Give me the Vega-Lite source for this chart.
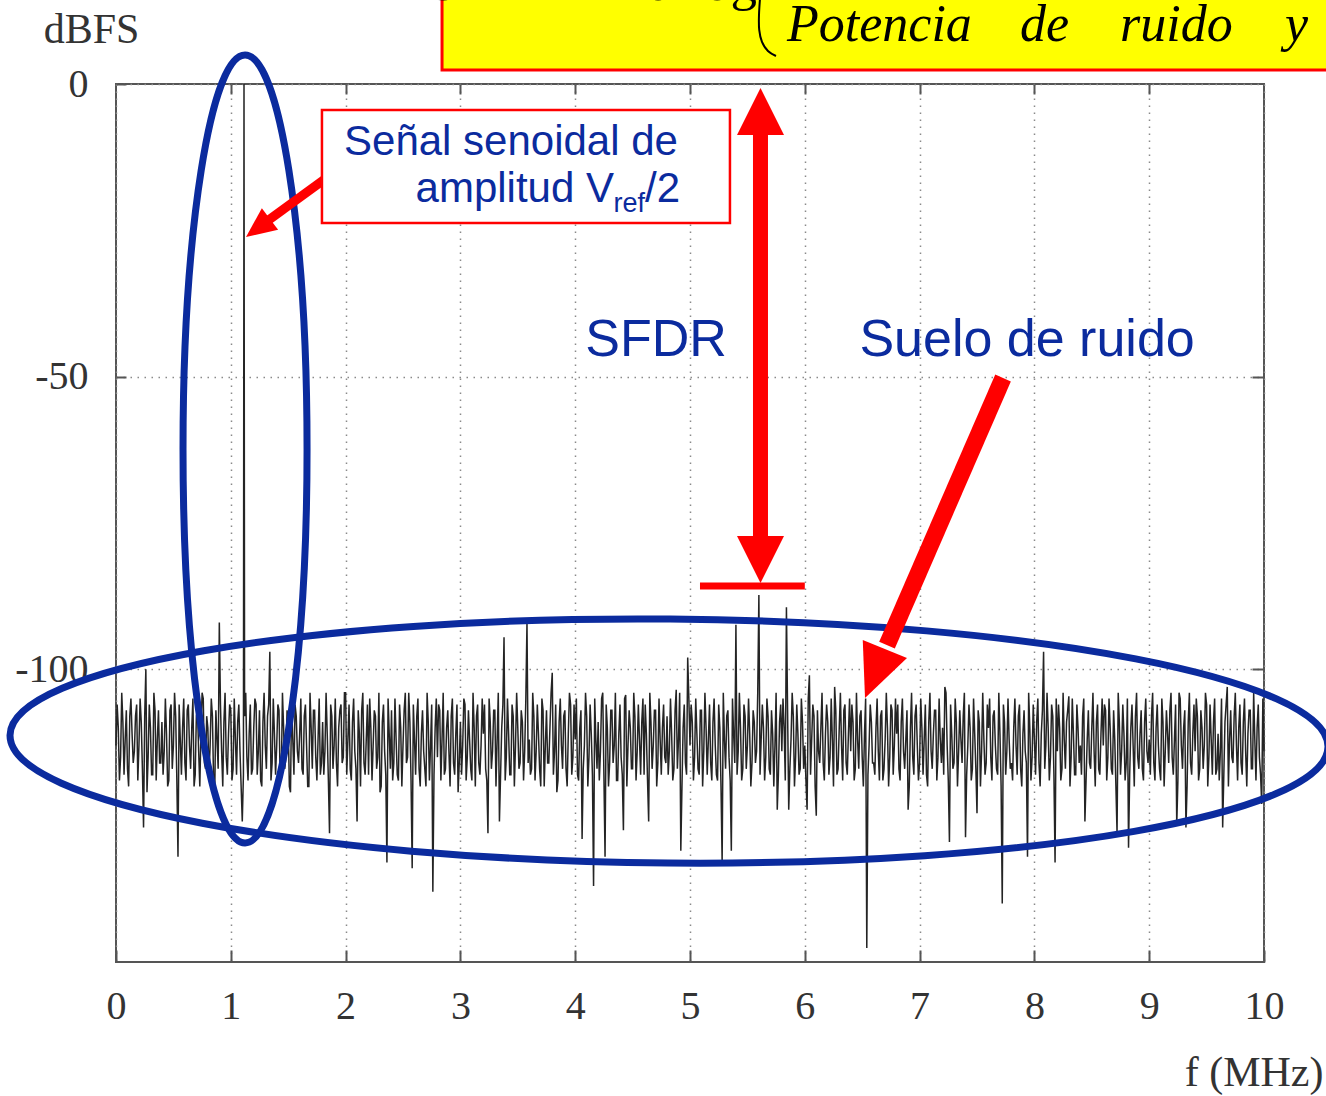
{
  "$schema": "https://vega.github.io/schema/vega-lite/v6.json",
  "width": 1148,
  "height": 878,
  "autosize": {"type": "none"},
  "padding": {"left": 116, "top": 84, "right": 62, "bottom": 134},
  "background": "white",
  "config": {
    "view": {"stroke": "#555555", "strokeWidth": 2},
    "font": "Liberation Serif",
    "axis": {
      "domain": false,
      "labelFont": "Liberation Serif",
      "labelFontSize": 40,
      "labelColor": "#333333",
      "labelFlush": false,
      "labelOverlap": false,
      "tickColor": "#555555",
      "tickWidth": 2,
      "gridColor": "#8a8a8a",
      "gridDash": [1.5, 5.5],
      "gridWidth": 1.5,
      "titleFont": "Liberation Serif",
      "titleFontSize": 42,
      "titleFontWeight": "normal",
      "titleColor": "#333333"
    }
  },
  "datasets": {
    "spectrum": [
      {"f":0.00,"db":-113},{"f":0.02,"db":-110},{"f":0.04,"db":-115},{"f":0.06,"db":-109},{"f":0.08,"db":-112},{"f":0.10,"db":-117},{"f":0.12,"db":-108},{"f":0.14,"db":-111},{"f":0.16,"db":-114},{"f":0.18,"db":-106},
      {"f":0.20,"db":-113},{"f":0.22,"db":-109},{"f":0.24,"db":-127},{"f":0.26,"db":-100},{"f":0.28,"db":-115},{"f":0.30,"db":-110},{"f":0.32,"db":-118},{"f":0.34,"db":-107},{"f":0.36,"db":-112},{"f":0.38,"db":-116},
      {"f":0.40,"db":-109},{"f":0.42,"db":-114},{"f":0.44,"db":-111},{"f":0.46,"db":-119},{"f":0.48,"db":-106},{"f":0.50,"db":-113},{"f":0.52,"db":-108},{"f":0.54,"db":-132},{"f":0.56,"db":-112},{"f":0.58,"db":-110},
      {"f":0.60,"db":-116},{"f":0.62,"db":-107},{"f":0.64,"db":-113},{"f":0.66,"db":-110},{"f":0.68,"db":-120},{"f":0.70,"db":-108},{"f":0.72,"db":-114},{"f":0.74,"db":-111},{"f":0.76,"db":-105},{"f":0.78,"db":-117},
      {"f":0.80,"db":-110},{"f":0.82,"db":-113},{"f":0.84,"db":-108},{"f":0.86,"db":-121},{"f":0.88,"db":-112},{"f":0.90,"db":-92},{"f":0.92,"db":-114},{"f":0.94,"db":-109},{"f":0.96,"db":-115},{"f":0.98,"db":-111},
      {"f":1.00,"db":-107},{"f":1.02,"db":-117},{"f":1.04,"db":-112},{"f":1.06,"db":-109},{"f":1.08,"db":-114},{"f":1.10,"db":-126},{"f":1.115,"db":0},{"f":1.12,"db":-108},{"f":1.14,"db":-115},{"f":1.16,"db":-111},{"f":1.18,"db":-118},
      {"f":1.20,"db":-110},{"f":1.22,"db":-106},{"f":1.24,"db":-114},{"f":1.26,"db":-119},{"f":1.28,"db":-109},{"f":1.30,"db":-113},{"f":1.32,"db":-108},{"f":1.34,"db":-97},{"f":1.36,"db":-116},{"f":1.38,"db":-111},
      {"f":1.40,"db":-113},{"f":1.42,"db":-107},{"f":1.44,"db":-118},{"f":1.46,"db":-110},{"f":1.48,"db":-115},{"f":1.50,"db":-109},{"f":1.52,"db":-121},{"f":1.54,"db":-112},{"f":1.56,"db":-106},{"f":1.58,"db":-114},
      {"f":1.60,"db":-111},{"f":1.62,"db":-117},{"f":1.64,"db":-108},{"f":1.66,"db":-113},{"f":1.68,"db":-120},{"f":1.70,"db":-110},{"f":1.72,"db":-107},{"f":1.74,"db":-115},{"f":1.76,"db":-112},{"f":1.78,"db":-118},
      {"f":1.80,"db":-109},{"f":1.82,"db":-114},{"f":1.84,"db":-111},{"f":1.86,"db":-128},{"f":1.88,"db":-108},{"f":1.90,"db":-113},{"f":1.92,"db":-116},{"f":1.94,"db":-110},{"f":1.96,"db":-106},{"f":1.98,"db":-115},
      {"f":2.00,"db":-104},{"f":2.02,"db":-112},{"f":2.04,"db":-117},{"f":2.06,"db":-109},{"f":2.08,"db":-114},{"f":2.10,"db":-126},{"f":2.12,"db":-111},{"f":2.14,"db":-107},{"f":2.16,"db":-116},{"f":2.18,"db":-112},
      {"f":2.20,"db":-118},{"f":2.22,"db":-110},{"f":2.24,"db":-113},{"f":2.26,"db":-108},{"f":2.28,"db":-115},{"f":2.30,"db":-121},{"f":2.32,"db":-109},{"f":2.34,"db":-114},{"f":2.36,"db":-133},{"f":2.38,"db":-111},
      {"f":2.40,"db":-107},{"f":2.42,"db":-116},{"f":2.44,"db":-112},{"f":2.46,"db":-119},{"f":2.48,"db":-110},{"f":2.50,"db":-113},{"f":2.52,"db":-104},{"f":2.54,"db":-115},{"f":2.56,"db":-109},{"f":2.58,"db":-134},
      {"f":2.60,"db":-112},{"f":2.62,"db":-108},{"f":2.64,"db":-117},{"f":2.66,"db":-111},{"f":2.68,"db":-114},{"f":2.70,"db":-120},{"f":2.72,"db":-109},{"f":2.74,"db":-113},{"f":2.76,"db":-138},{"f":2.78,"db":-110},
      {"f":2.80,"db":-115},{"f":2.82,"db":-107},{"f":2.84,"db":-112},{"f":2.86,"db":-118},{"f":2.88,"db":-110},{"f":2.90,"db":-114},{"f":2.92,"db":-108},{"f":2.94,"db":-116},{"f":2.96,"db":-111},{"f":2.98,"db":-121},
      {"f":3.00,"db":-109},{"f":3.02,"db":-113},{"f":3.04,"db":-106},{"f":3.06,"db":-115},{"f":3.08,"db":-112},{"f":3.10,"db":-119},{"f":3.12,"db":-110},{"f":3.14,"db":-108},{"f":3.16,"db":-116},{"f":3.18,"db":-113},
      {"f":3.20,"db":-111},{"f":3.22,"db":-117},{"f":3.24,"db":-128},{"f":3.26,"db":-109},{"f":3.28,"db":-114},{"f":3.30,"db":-107},{"f":3.32,"db":-112},{"f":3.34,"db":-126},{"f":3.36,"db":-110},{"f":3.38,"db":-94.5},
      {"f":3.40,"db":-115},{"f":3.42,"db":-111},{"f":3.44,"db":-118},{"f":3.46,"db":-108},{"f":3.48,"db":-113},{"f":3.50,"db":-110},{"f":3.52,"db":-116},{"f":3.54,"db":-109},{"f":3.56,"db":-114},{"f":3.58,"db":-92},
      {"f":3.60,"db":-112},{"f":3.62,"db":-117},{"f":3.64,"db":-108},{"f":3.66,"db":-114},{"f":3.68,"db":-111},{"f":3.70,"db":-120},{"f":3.72,"db":-107},{"f":3.74,"db":-113},{"f":3.76,"db":-116},{"f":3.78,"db":-110},
      {"f":3.80,"db":-100.6},{"f":3.82,"db":-114},{"f":3.84,"db":-121},{"f":3.86,"db":-109},{"f":3.88,"db":-113},{"f":3.90,"db":-108},{"f":3.92,"db":-117},{"f":3.94,"db":-111},{"f":3.96,"db":-106},{"f":3.98,"db":-115},
      {"f":4.00,"db":-112},{"f":4.02,"db":-118},{"f":4.04,"db":-110},{"f":4.06,"db":-129},{"f":4.08,"db":-113},{"f":4.10,"db":-108},{"f":4.12,"db":-115},{"f":4.14,"db":-111},{"f":4.16,"db":-137},{"f":4.18,"db":-112},
      {"f":4.20,"db":-109},{"f":4.22,"db":-114},{"f":4.24,"db":-104},{"f":4.26,"db":-132},{"f":4.28,"db":-110},{"f":4.30,"db":-116},{"f":4.32,"db":-107},{"f":4.34,"db":-113},{"f":4.36,"db":-119},{"f":4.38,"db":-111},
      {"f":4.40,"db":-115},{"f":4.42,"db":-127.5},{"f":4.44,"db":-104.4},{"f":4.46,"db":-113},{"f":4.48,"db":-110},{"f":4.50,"db":-117},{"f":4.52,"db":-108},{"f":4.54,"db":-114},{"f":4.56,"db":-112},{"f":4.58,"db":-109},
      {"f":4.60,"db":-118},{"f":4.62,"db":-111},{"f":4.64,"db":-126},{"f":4.66,"db":-109},{"f":4.68,"db":-113},{"f":4.70,"db":-107},{"f":4.72,"db":-116},{"f":4.74,"db":-112},{"f":4.76,"db":-110},{"f":4.78,"db":-115},
      {"f":4.80,"db":-108},{"f":4.82,"db":-114},{"f":4.84,"db":-111},{"f":4.86,"db":-117},{"f":4.88,"db":-103.5},{"f":4.90,"db":-112},{"f":4.92,"db":-131},{"f":4.94,"db":-110},{"f":4.96,"db":-116},{"f":4.98,"db":-98},
      {"f":5.00,"db":-113},{"f":5.02,"db":-109},{"f":5.04,"db":-115},{"f":5.06,"db":-111},{"f":5.08,"db":-118},{"f":5.10,"db":-107},{"f":5.12,"db":-114},{"f":5.14,"db":-110},{"f":5.16,"db":-112},{"f":5.18,"db":-116},
      {"f":5.20,"db":-109},{"f":5.22,"db":-113},{"f":5.24,"db":-119},{"f":5.26,"db":-110},{"f":5.28,"db":-133},{"f":5.30,"db":-112},{"f":5.32,"db":-108},{"f":5.34,"db":-115},{"f":5.36,"db":-131},{"f":5.38,"db":-111},
      {"f":5.40,"db":-92.4},{"f":5.42,"db":-114},{"f":5.44,"db":-110},{"f":5.46,"db":-117},{"f":5.48,"db":-108},{"f":5.50,"db":-113},{"f":5.52,"db":-111},{"f":5.54,"db":-116},{"f":5.56,"db":-109},{"f":5.58,"db":-114},
      {"f":5.60,"db":-87.3},{"f":5.62,"db":-112},{"f":5.64,"db":-110},{"f":5.66,"db":-115},{"f":5.68,"db":-108},{"f":5.70,"db":-118},{"f":5.72,"db":-111},{"f":5.74,"db":-113},{"f":5.76,"db":-124},{"f":5.78,"db":-109},
      {"f":5.80,"db":-114},{"f":5.82,"db":-110},{"f":5.84,"db":-89.4},{"f":5.86,"db":-124},{"f":5.88,"db":-112},{"f":5.90,"db":-108},{"f":5.92,"db":-115},{"f":5.94,"db":-111},{"f":5.96,"db":-117},{"f":5.98,"db":-109},
      {"f":6.00,"db":-113},{"f":6.02,"db":-124},{"f":6.04,"db":-101},{"f":6.06,"db":-112},{"f":6.08,"db":-108},{"f":6.10,"db":-125},{"f":6.12,"db":-114},{"f":6.14,"db":-110},{"f":6.16,"db":-116},{"f":6.18,"db":-111},
      {"f":6.20,"db":-109},{"f":6.22,"db":-115},{"f":6.24,"db":-112},{"f":6.26,"db":-103},{"f":6.28,"db":-118},{"f":6.30,"db":-110},{"f":6.32,"db":-113},{"f":6.34,"db":-107},{"f":6.36,"db":-116},{"f":6.38,"db":-111},
      {"f":6.40,"db":-114},{"f":6.42,"db":-109},{"f":6.44,"db":-117},{"f":6.46,"db":-112},{"f":6.48,"db":-108},{"f":6.50,"db":-115},{"f":6.52,"db":-111},{"f":6.54,"db":-147.6},{"f":6.56,"db":-113},{"f":6.58,"db":-109},
      {"f":6.60,"db":-116},{"f":6.62,"db":-110},{"f":6.64,"db":-114},{"f":6.66,"db":-108},{"f":6.68,"db":-119},{"f":6.70,"db":-112},{"f":6.72,"db":-110},{"f":6.74,"db":-115},{"f":6.76,"db":-107},{"f":6.78,"db":-113},
      {"f":6.80,"db":-111},{"f":6.82,"db":-117},{"f":6.84,"db":-109},{"f":6.86,"db":-114},{"f":6.88,"db":-112},{"f":6.90,"db":-124},{"f":6.92,"db":-110},{"f":6.94,"db":-115},{"f":6.96,"db":-108},{"f":6.98,"db":-113},
      {"f":7.00,"db":-116},{"f":7.02,"db":-110},{"f":7.04,"db":-112},{"f":7.06,"db":-118},{"f":7.08,"db":-109},{"f":7.10,"db":-114},{"f":7.12,"db":-111},{"f":7.14,"db":-107},{"f":7.16,"db":-115},{"f":7.18,"db":-112},
      {"f":7.20,"db":-110},{"f":7.22,"db":-103},{"f":7.24,"db":-113},{"f":7.26,"db":-129.5},{"f":7.28,"db":-111},{"f":7.30,"db":-116},{"f":7.32,"db":-109},{"f":7.34,"db":-114},{"f":7.36,"db":-112},{"f":7.38,"db":-108},
      {"f":7.40,"db":-128.7},{"f":7.42,"db":-113},{"f":7.44,"db":-110},{"f":7.46,"db":-117},{"f":7.48,"db":-111},{"f":7.50,"db":-124.6},{"f":7.52,"db":-109},{"f":7.54,"db":-114},{"f":7.56,"db":-112},{"f":7.58,"db":-116},
      {"f":7.60,"db":-110},{"f":7.62,"db":-115},{"f":7.64,"db":-108},{"f":7.66,"db":-113},{"f":7.68,"db":-118},{"f":7.70,"db":-111},{"f":7.72,"db":-140},{"f":7.74,"db":-109},{"f":7.76,"db":-114},{"f":7.78,"db":-112},
      {"f":7.80,"db":-116},{"f":7.82,"db":-110},{"f":7.84,"db":-113},{"f":7.86,"db":-108},{"f":7.88,"db":-117},{"f":7.90,"db":-111},{"f":7.92,"db":-114},{"f":7.94,"db":-132},{"f":7.96,"db":-110},{"f":7.98,"db":-115},
      {"f":8.00,"db":-112},{"f":8.02,"db":-109},{"f":8.04,"db":-116},{"f":8.06,"db":-111},{"f":8.08,"db":-97},{"f":8.10,"db":-113},{"f":8.12,"db":-110},{"f":8.14,"db":-115},{"f":8.16,"db":-108},{"f":8.18,"db":-133},
      {"f":8.20,"db":-114},{"f":8.22,"db":-110},{"f":8.24,"db":-117},{"f":8.26,"db":-112},{"f":8.28,"db":-109},{"f":8.30,"db":-104.6},{"f":8.32,"db":-115},{"f":8.34,"db":-111},{"f":8.36,"db":-118},{"f":8.38,"db":-110},
      {"f":8.40,"db":-113},{"f":8.42,"db":-108},{"f":8.44,"db":-126},{"f":8.46,"db":-112},{"f":8.48,"db":-116},{"f":8.50,"db":-110},{"f":8.52,"db":-114},{"f":8.54,"db":-109},{"f":8.56,"db":-117},{"f":8.58,"db":-111},
      {"f":8.60,"db":-113},{"f":8.62,"db":-107},{"f":8.64,"db":-115},{"f":8.66,"db":-110},{"f":8.68,"db":-118},{"f":8.70,"db":-112},{"f":8.72,"db":-128},{"f":8.74,"db":-109},{"f":8.76,"db":-114},{"f":8.78,"db":-111},
      {"f":8.80,"db":-116},{"f":8.82,"db":-130.5},{"f":8.84,"db":-110},{"f":8.86,"db":-113},{"f":8.88,"db":-108},{"f":8.90,"db":-115},{"f":8.92,"db":-111},{"f":8.94,"db":-117},{"f":8.96,"db":-109},{"f":8.98,"db":-114},
      {"f":9.00,"db":-112},{"f":9.02,"db":-108},{"f":9.04,"db":-116},{"f":9.06,"db":-110},{"f":9.08,"db":-113},{"f":9.10,"db":-119},{"f":9.12,"db":-109},{"f":9.14,"db":-114},{"f":9.16,"db":-111},{"f":9.18,"db":-107},
      {"f":9.20,"db":-115},{"f":9.22,"db":-112},{"f":9.24,"db":-126.6},{"f":9.26,"db":-104},{"f":9.28,"db":-113},{"f":9.30,"db":-110},{"f":9.32,"db":-127},{"f":9.34,"db":-109},{"f":9.36,"db":-116},{"f":9.38,"db":-111},
      {"f":9.40,"db":-114},{"f":9.42,"db":-108},{"f":9.44,"db":-117},{"f":9.46,"db":-110},{"f":9.48,"db":-113},{"f":9.50,"db":-106},{"f":9.52,"db":-115},{"f":9.54,"db":-112},{"f":9.56,"db":-109},{"f":9.58,"db":-118},
      {"f":9.60,"db":-111},{"f":9.62,"db":-114},{"f":9.64,"db":-127},{"f":9.66,"db":-109},{"f":9.68,"db":-103},{"f":9.70,"db":-112},{"f":9.72,"db":-115},{"f":9.74,"db":-108},{"f":9.76,"db":-113},{"f":9.78,"db":-110},
      {"f":9.80,"db":-116},{"f":9.82,"db":-109},{"f":9.84,"db":-114},{"f":9.86,"db":-111},{"f":9.88,"db":-107},{"f":9.90,"db":-117},{"f":9.92,"db":-112},{"f":9.94,"db":-110},{"f":9.96,"db":-115},{"f":9.98,"db":-123},
      {"f":10.00,"db":-114},
      {"f":0.01,"db":-106},{"f":0.03,"db":-119},{"f":0.05,"db":-104},{"f":0.07,"db":-118},{"f":0.09,"db":-107},{"f":0.11,"db":-120},{"f":0.13,"db":-105},{"f":0.15,"db":-116},{"f":0.17,"db":-108},{"f":0.19,"db":-119},
      {"f":0.21,"db":-105},{"f":0.23,"db":-117},{"f":0.25,"db":-108},{"f":0.27,"db":-121},{"f":0.29,"db":-106},{"f":0.31,"db":-118},{"f":0.33,"db":-104},{"f":0.35,"db":-119},{"f":0.37,"db":-107},{"f":0.39,"db":-116},
      {"f":0.41,"db":-118},{"f":0.43,"db":-105},{"f":0.45,"db":-120},{"f":0.47,"db":-107},{"f":0.49,"db":-117},{"f":0.51,"db":-104},{"f":0.53,"db":-119},{"f":0.55,"db":-106},{"f":0.57,"db":-118},{"f":0.59,"db":-105},
      {"f":0.61,"db":-119},{"f":0.63,"db":-106},{"f":0.65,"db":-117},{"f":0.67,"db":-105},{"f":0.69,"db":-118},{"f":0.71,"db":-107},{"f":0.73,"db":-120},{"f":0.75,"db":-104},{"f":0.77,"db":-116},{"f":0.79,"db":-108},
      {"f":0.81,"db":-118},{"f":0.83,"db":-105},{"f":0.85,"db":-119},{"f":0.87,"db":-107},{"f":0.89,"db":-117},{"f":0.91,"db":-106},{"f":0.93,"db":-120},{"f":0.95,"db":-104},{"f":0.97,"db":-118},{"f":0.99,"db":-106},
      {"f":1.01,"db":-119},{"f":1.03,"db":-105},{"f":1.05,"db":-118},{"f":1.07,"db":-106},{"f":1.09,"db":-120},{"f":1.11,"db":-118},{"f":1.13,"db":-104},{"f":1.15,"db":-119},{"f":1.17,"db":-106},{"f":1.19,"db":-117},
      {"f":1.21,"db":-105},{"f":1.23,"db":-118},{"f":1.25,"db":-107},{"f":1.27,"db":-120},{"f":1.29,"db":-104},{"f":1.31,"db":-117},{"f":1.33,"db":-106},{"f":1.35,"db":-119},{"f":1.37,"db":-105},{"f":1.39,"db":-118},
      {"f":1.41,"db":-106},{"f":1.43,"db":-119},{"f":1.45,"db":-104},{"f":1.47,"db":-117},{"f":1.49,"db":-107},{"f":1.51,"db":-120},{"f":1.53,"db":-105},{"f":1.55,"db":-118},{"f":1.57,"db":-108},{"f":1.59,"db":-116},
      {"f":1.61,"db":-105},{"f":1.63,"db":-118},{"f":1.65,"db":-106},{"f":1.67,"db":-120},{"f":1.69,"db":-104},{"f":1.71,"db":-117},{"f":1.73,"db":-107},{"f":1.75,"db":-119},{"f":1.77,"db":-105},{"f":1.79,"db":-116},
      {"f":1.81,"db":-118},{"f":1.83,"db":-104},{"f":1.85,"db":-119},{"f":1.87,"db":-106},{"f":1.89,"db":-117},{"f":1.91,"db":-105},{"f":1.93,"db":-120},{"f":1.95,"db":-107},{"f":1.97,"db":-116},{"f":1.99,"db":-104},
      {"f":2.01,"db":-118},{"f":2.03,"db":-106},{"f":2.05,"db":-119},{"f":2.07,"db":-105},{"f":2.09,"db":-117},{"f":2.11,"db":-107},{"f":2.13,"db":-120},{"f":2.15,"db":-104},{"f":2.17,"db":-118},{"f":2.19,"db":-106},
      {"f":2.21,"db":-105},{"f":2.23,"db":-119},{"f":2.25,"db":-107},{"f":2.27,"db":-117},{"f":2.29,"db":-104},{"f":2.31,"db":-120},{"f":2.33,"db":-106},{"f":2.35,"db":-118},{"f":2.37,"db":-105},{"f":2.39,"db":-117},
      {"f":2.41,"db":-119},{"f":2.43,"db":-105},{"f":2.45,"db":-118},{"f":2.47,"db":-106},{"f":2.49,"db":-120},{"f":2.51,"db":-107},{"f":2.53,"db":-116},{"f":2.55,"db":-104},{"f":2.57,"db":-119},{"f":2.59,"db":-106},
      {"f":2.61,"db":-118},{"f":2.63,"db":-105},{"f":2.65,"db":-120},{"f":2.67,"db":-107},{"f":2.69,"db":-117},{"f":2.71,"db":-104},{"f":2.73,"db":-119},{"f":2.75,"db":-106},{"f":2.77,"db":-118},{"f":2.79,"db":-105},
      {"f":2.81,"db":-106},{"f":2.83,"db":-119},{"f":2.85,"db":-104},{"f":2.87,"db":-117},{"f":2.89,"db":-107},{"f":2.91,"db":-120},{"f":2.93,"db":-105},{"f":2.95,"db":-118},{"f":2.97,"db":-106},{"f":2.99,"db":-116},
      {"f":3.01,"db":-118},{"f":3.03,"db":-105},{"f":3.05,"db":-119},{"f":3.07,"db":-107},{"f":3.09,"db":-117},{"f":3.11,"db":-104},{"f":3.13,"db":-120},{"f":3.15,"db":-106},{"f":3.17,"db":-118},{"f":3.19,"db":-105},
      {"f":3.21,"db":-106},{"f":3.23,"db":-119},{"f":3.25,"db":-105},{"f":3.27,"db":-117},{"f":3.29,"db":-107},{"f":3.31,"db":-120},{"f":3.33,"db":-104},{"f":3.35,"db":-118},{"f":3.37,"db":-106},{"f":3.39,"db":-119},
      {"f":3.41,"db":-105},{"f":3.43,"db":-118},{"f":3.45,"db":-106},{"f":3.47,"db":-120},{"f":3.49,"db":-104},{"f":3.51,"db":-117},{"f":3.53,"db":-107},{"f":3.55,"db":-119},{"f":3.57,"db":-105},{"f":3.59,"db":-116},
      {"f":3.61,"db":-118},{"f":3.63,"db":-104},{"f":3.65,"db":-119},{"f":3.67,"db":-106},{"f":3.69,"db":-117},{"f":3.71,"db":-105},{"f":3.73,"db":-120},{"f":3.75,"db":-107},{"f":3.77,"db":-116},{"f":3.79,"db":-104},
      {"f":3.81,"db":-118},{"f":3.83,"db":-106},{"f":3.85,"db":-119},{"f":3.87,"db":-105},{"f":3.89,"db":-117},{"f":3.91,"db":-107},{"f":3.93,"db":-120},{"f":3.95,"db":-104},{"f":3.97,"db":-118},{"f":3.99,"db":-106},
      {"f":4.01,"db":-105},{"f":4.03,"db":-119},{"f":4.05,"db":-107},{"f":4.07,"db":-117},{"f":4.09,"db":-104},{"f":4.11,"db":-120},{"f":4.13,"db":-106},{"f":4.15,"db":-118},{"f":4.17,"db":-105},{"f":4.19,"db":-117},
      {"f":4.21,"db":-119},{"f":4.23,"db":-105},{"f":4.25,"db":-118},{"f":4.27,"db":-106},{"f":4.29,"db":-120},{"f":4.31,"db":-107},{"f":4.33,"db":-116},{"f":4.35,"db":-104},{"f":4.37,"db":-119},{"f":4.39,"db":-106},
      {"f":4.41,"db":-118},{"f":4.43,"db":-105},{"f":4.45,"db":-120},{"f":4.47,"db":-107},{"f":4.49,"db":-117},{"f":4.51,"db":-104},{"f":4.53,"db":-119},{"f":4.55,"db":-106},{"f":4.57,"db":-118},{"f":4.59,"db":-105},
      {"f":4.61,"db":-106},{"f":4.63,"db":-119},{"f":4.65,"db":-104},{"f":4.67,"db":-117},{"f":4.69,"db":-107},{"f":4.71,"db":-120},{"f":4.73,"db":-105},{"f":4.75,"db":-118},{"f":4.77,"db":-106},{"f":4.79,"db":-116},
      {"f":4.81,"db":-118},{"f":4.83,"db":-105},{"f":4.85,"db":-119},{"f":4.87,"db":-107},{"f":4.89,"db":-117},{"f":4.91,"db":-104},{"f":4.93,"db":-120},{"f":4.95,"db":-106},{"f":4.97,"db":-118},{"f":4.99,"db":-105},
      {"f":5.01,"db":-106},{"f":5.03,"db":-119},{"f":5.05,"db":-105},{"f":5.07,"db":-117},{"f":5.09,"db":-107},{"f":5.11,"db":-120},{"f":5.13,"db":-104},{"f":5.15,"db":-118},{"f":5.17,"db":-106},{"f":5.19,"db":-119},
      {"f":5.21,"db":-105},{"f":5.23,"db":-118},{"f":5.25,"db":-106},{"f":5.27,"db":-120},{"f":5.29,"db":-104},{"f":5.31,"db":-117},{"f":5.33,"db":-107},{"f":5.35,"db":-119},{"f":5.37,"db":-105},{"f":5.39,"db":-116},
      {"f":5.41,"db":-118},{"f":5.43,"db":-104},{"f":5.45,"db":-119},{"f":5.47,"db":-106},{"f":5.49,"db":-117},{"f":5.51,"db":-105},{"f":5.53,"db":-120},{"f":5.55,"db":-107},{"f":5.57,"db":-116},{"f":5.59,"db":-104},
      {"f":5.61,"db":-118},{"f":5.63,"db":-106},{"f":5.65,"db":-119},{"f":5.67,"db":-105},{"f":5.69,"db":-117},{"f":5.71,"db":-107},{"f":5.73,"db":-120},{"f":5.75,"db":-104},{"f":5.77,"db":-118},{"f":5.79,"db":-106},
      {"f":5.81,"db":-105},{"f":5.83,"db":-119},{"f":5.85,"db":-107},{"f":5.87,"db":-117},{"f":5.89,"db":-104},{"f":5.91,"db":-120},{"f":5.93,"db":-106},{"f":5.95,"db":-118},{"f":5.97,"db":-105},{"f":5.99,"db":-117},
      {"f":6.01,"db":-119},{"f":6.03,"db":-105},{"f":6.05,"db":-118},{"f":6.07,"db":-106},{"f":6.09,"db":-120},{"f":6.11,"db":-107},{"f":6.13,"db":-116},{"f":6.15,"db":-104},{"f":6.17,"db":-119},{"f":6.19,"db":-106},
      {"f":6.21,"db":-118},{"f":6.23,"db":-105},{"f":6.25,"db":-120},{"f":6.27,"db":-107},{"f":6.29,"db":-117},{"f":6.31,"db":-104},{"f":6.33,"db":-119},{"f":6.35,"db":-106},{"f":6.37,"db":-118},{"f":6.39,"db":-105},
      {"f":6.41,"db":-106},{"f":6.43,"db":-119},{"f":6.45,"db":-104},{"f":6.47,"db":-117},{"f":6.49,"db":-107},{"f":6.51,"db":-120},{"f":6.53,"db":-105},{"f":6.55,"db":-118},{"f":6.57,"db":-106},{"f":6.59,"db":-116},
      {"f":6.61,"db":-118},{"f":6.63,"db":-105},{"f":6.65,"db":-119},{"f":6.67,"db":-107},{"f":6.69,"db":-117},{"f":6.71,"db":-104},{"f":6.73,"db":-120},{"f":6.75,"db":-106},{"f":6.77,"db":-118},{"f":6.79,"db":-105},
      {"f":6.81,"db":-106},{"f":6.83,"db":-119},{"f":6.85,"db":-105},{"f":6.87,"db":-117},{"f":6.89,"db":-107},{"f":6.91,"db":-120},{"f":6.93,"db":-104},{"f":6.95,"db":-118},{"f":6.97,"db":-106},{"f":6.99,"db":-119},
      {"f":7.01,"db":-105},{"f":7.03,"db":-118},{"f":7.05,"db":-106},{"f":7.07,"db":-120},{"f":7.09,"db":-104},{"f":7.11,"db":-117},{"f":7.13,"db":-107},{"f":7.15,"db":-119},{"f":7.17,"db":-105},{"f":7.19,"db":-116},
      {"f":7.21,"db":-118},{"f":7.23,"db":-104},{"f":7.25,"db":-119},{"f":7.27,"db":-106},{"f":7.29,"db":-117},{"f":7.31,"db":-105},{"f":7.33,"db":-120},{"f":7.35,"db":-107},{"f":7.37,"db":-116},{"f":7.39,"db":-104},
      {"f":7.41,"db":-118},{"f":7.43,"db":-106},{"f":7.45,"db":-119},{"f":7.47,"db":-105},{"f":7.49,"db":-117},{"f":7.51,"db":-107},{"f":7.53,"db":-120},{"f":7.55,"db":-104},{"f":7.57,"db":-118},{"f":7.59,"db":-106},
      {"f":7.61,"db":-105},{"f":7.63,"db":-119},{"f":7.65,"db":-107},{"f":7.67,"db":-117},{"f":7.69,"db":-104},{"f":7.71,"db":-120},{"f":7.73,"db":-106},{"f":7.75,"db":-118},{"f":7.77,"db":-105},{"f":7.79,"db":-117},
      {"f":7.81,"db":-119},{"f":7.83,"db":-105},{"f":7.85,"db":-118},{"f":7.87,"db":-106},{"f":7.89,"db":-120},{"f":7.91,"db":-107},{"f":7.93,"db":-116},{"f":7.95,"db":-104},{"f":7.97,"db":-119},{"f":7.99,"db":-106},
      {"f":8.01,"db":-118},{"f":8.03,"db":-105},{"f":8.05,"db":-120},{"f":8.07,"db":-107},{"f":8.09,"db":-117},{"f":8.11,"db":-104},{"f":8.13,"db":-119},{"f":8.15,"db":-106},{"f":8.17,"db":-118},{"f":8.19,"db":-105},
      {"f":8.21,"db":-106},{"f":8.23,"db":-119},{"f":8.25,"db":-104},{"f":8.27,"db":-117},{"f":8.29,"db":-107},{"f":8.31,"db":-120},{"f":8.33,"db":-105},{"f":8.35,"db":-118},{"f":8.37,"db":-106},{"f":8.39,"db":-116},
      {"f":8.41,"db":-118},{"f":8.43,"db":-105},{"f":8.45,"db":-119},{"f":8.47,"db":-107},{"f":8.49,"db":-117},{"f":8.51,"db":-104},{"f":8.53,"db":-120},{"f":8.55,"db":-106},{"f":8.57,"db":-118},{"f":8.59,"db":-105},
      {"f":8.61,"db":-106},{"f":8.63,"db":-119},{"f":8.65,"db":-105},{"f":8.67,"db":-117},{"f":8.69,"db":-107},{"f":8.71,"db":-120},{"f":8.73,"db":-104},{"f":8.75,"db":-118},{"f":8.77,"db":-106},{"f":8.79,"db":-119},
      {"f":8.81,"db":-105},{"f":8.83,"db":-118},{"f":8.85,"db":-106},{"f":8.87,"db":-120},{"f":8.89,"db":-104},{"f":8.91,"db":-117},{"f":8.93,"db":-107},{"f":8.95,"db":-119},{"f":8.97,"db":-105},{"f":8.99,"db":-116},
      {"f":9.01,"db":-118},{"f":9.03,"db":-104},{"f":9.05,"db":-119},{"f":9.07,"db":-106},{"f":9.09,"db":-117},{"f":9.11,"db":-105},{"f":9.13,"db":-120},{"f":9.15,"db":-107},{"f":9.17,"db":-116},{"f":9.19,"db":-104},
      {"f":9.21,"db":-118},{"f":9.23,"db":-106},{"f":9.25,"db":-119},{"f":9.27,"db":-105},{"f":9.29,"db":-117},{"f":9.31,"db":-107},{"f":9.33,"db":-120},{"f":9.35,"db":-104},{"f":9.37,"db":-118},{"f":9.39,"db":-106},
      {"f":9.41,"db":-105},{"f":9.43,"db":-119},{"f":9.45,"db":-107},{"f":9.47,"db":-117},{"f":9.49,"db":-104},{"f":9.51,"db":-120},{"f":9.53,"db":-106},{"f":9.55,"db":-118},{"f":9.57,"db":-105},{"f":9.59,"db":-117},
      {"f":9.61,"db":-119},{"f":9.63,"db":-105},{"f":9.65,"db":-118},{"f":9.67,"db":-106},{"f":9.69,"db":-120},{"f":9.71,"db":-107},{"f":9.73,"db":-116},{"f":9.75,"db":-104},{"f":9.77,"db":-119},{"f":9.79,"db":-106},
      {"f":9.81,"db":-118},{"f":9.83,"db":-105},{"f":9.85,"db":-120},{"f":9.87,"db":-107},{"f":9.89,"db":-117},{"f":9.91,"db":-104},{"f":9.93,"db":-119},{"f":9.95,"db":-106},{"f":9.97,"db":-118},{"f":9.99,"db":-105}
    ]
  },
  "layer": [
    {
      "data": {"name": "spectrum"},
      "mark": {"type": "line", "color": "#242424", "strokeWidth": 1.5},
      "encoding": {
        "x": {
          "field": "f", "type": "quantitative",
          "scale": {"domain": [0, 10], "nice": false, "zero": false},
          "axis": {
            "orient": "bottom", "values": [0,1,2,3,4,5,6,7,8,9,10],
            "grid": true, "tickSize": -12, "labelPadding": 68, "labelBaseline": "alphabetic",
            "title": "f (MHz)", "titleAngle": 0, "titleAlign": "right", "titleBaseline": "alphabetic",
            "titleX": 1207, "titleY": 123
          }
        },
        "y": {
          "field": "db", "type": "quantitative",
          "scale": {"domain": [-150, 0], "nice": false, "zero": false},
          "axis": {
            "orient": "left", "values": [0, -50, -100],
            "grid": true, "tickSize": -10, "labelPadding": 38,
            "labelExpr": "'' + datum.value",
            "title": "dBFS", "titleAngle": 0, "titleAlign": "center", "titleBaseline": "alphabetic",
            "titleX": -25, "titleY": -42
          }
        }
      }
    },
    {
      "data": {"values": [{"f": 1.124, "db": -62.36}]},
      "mark": {
        "type": "point", "filled": false, "opacity": 1, "color": "#0b2b9e", "strokeWidth": 7,
        "size": 620944,
        "shape": "M0,-1C0.0869,-1 0.1574,-0.5523 0.1574,0C0.1574,0.5523 0.0869,1 0,1C-0.0869,1 -0.1574,0.5523 -0.1574,0C-0.1574,-0.5523 -0.0869,-1 0,-1Z"
      },
      "encoding": {
        "x": {
          "field": "f", "type": "quantitative",
          "scale": {"domain": [0, 10], "nice": false, "zero": false},
          "axis": {"orient": "top", "values": [1,2,3,4,5,6,7,8,9], "grid": false, "labels": false, "tickSize": -10, "title": null}
        },
        "y": {
          "field": "db", "type": "quantitative",
          "scale": {"domain": [-150, 0], "nice": false, "zero": false},
          "axis": {"orient": "right", "values": [-50, -100], "grid": false, "labels": false, "tickSize": -12, "title": null}
        }
      }
    },
    {
      "data": {"values": [{"f": 4.817, "db": -112.25}]},
      "mark": {
        "type": "point", "filled": false, "opacity": 1, "color": "#0b2b9e", "strokeWidth": 7,
        "size": 1737124, "angle": 0.5,
        "shape": "M-1,0C-1,-0.1022 -0.5523,-0.1851 0,-0.1851C0.5523,-0.1851 1,-0.1022 1,0C1,0.1022 0.5523,0.1851 0,0.1851C-0.5523,0.1851 -1,0.1022 -1,0Z"
      },
      "encoding": {
        "x": {"field": "f", "type": "quantitative", "axis": null},
        "y": {"field": "db", "type": "quantitative", "axis": null}
      }
    },
    {
      "data": {"values": [{"f": 1.8206, "db": -16.23, "f2": 1.324, "db2": -23.32}]},
      "mark": {"type": "rule", "color": "#ff0000", "strokeWidth": 9, "strokeCap": "butt"},
      "encoding": {
        "x": {"field": "f", "type": "quantitative", "axis": null},
        "y": {"field": "db", "type": "quantitative", "axis": null},
        "x2": {"field": "f2"},
        "y2": {"field": "db2"}
      }
    },
    {
      "data": {"values": [{"f": 5.614, "db": -7.86, "f2": 5.614, "db2": -78.25}]},
      "mark": {"type": "rule", "color": "#ff0000", "strokeWidth": 15, "strokeCap": "butt"},
      "encoding": {
        "x": {"field": "f", "type": "quantitative", "axis": null},
        "y": {"field": "db", "type": "quantitative", "axis": null},
        "x2": {"field": "f2"},
        "y2": {"field": "db2"}
      }
    },
    {
      "data": {"values": [{"f": 5.087, "db": -85.77, "f2": 6.0, "db2": -85.77}]},
      "mark": {"type": "rule", "color": "#ff0000", "strokeWidth": 7, "strokeCap": "butt"},
      "encoding": {
        "x": {"field": "f", "type": "quantitative", "axis": null},
        "y": {"field": "db", "type": "quantitative", "axis": null},
        "x2": {"field": "f2"},
        "y2": {"field": "db2"}
      }
    },
    {
      "data": {"values": [{"f": 7.727, "db": -50.23, "f2": 6.716, "db2": -95.85}]},
      "mark": {"type": "rule", "color": "#ff0000", "strokeWidth": 17, "strokeCap": "butt"},
      "encoding": {
        "x": {"field": "f", "type": "quantitative", "axis": null},
        "y": {"field": "db", "type": "quantitative", "axis": null},
        "x2": {"field": "f2"},
        "y2": {"field": "db2"}
      }
    },
    {
      "data": {"values": [{"f": 1.237, "db": -24.6}]},
      "mark": {"type": "point", "filled": true, "opacity": 1, "color": "#ff0000", "strokeWidth": 0, "size": 900, "angle": 233, "shape": "M0,-1L-0.9,1L0.9,1Z"},
      "encoding": {
        "x": {"field": "f", "type": "quantitative", "axis": null},
        "y": {"field": "db", "type": "quantitative", "axis": null}
      }
    },
    {
      "data": {"values": [{"f": 5.614, "db": -4.7}]},
      "mark": {"type": "point", "filled": true, "opacity": 1, "color": "#ff0000", "strokeWidth": 0, "size": 2209, "angle": 0, "shape": "M0,-1L-1,1L1,1Z"},
      "encoding": {
        "x": {"field": "f", "type": "quantitative", "axis": null},
        "y": {"field": "db", "type": "quantitative", "axis": null}
      }
    },
    {
      "data": {"values": [{"f": 5.614, "db": -81.24}]},
      "mark": {"type": "point", "filled": true, "opacity": 1, "color": "#ff0000", "strokeWidth": 0, "size": 2209, "angle": 180, "shape": "M0,-1L-1,1L1,1Z"},
      "encoding": {
        "x": {"field": "f", "type": "quantitative", "axis": null},
        "y": {"field": "db", "type": "quantitative", "axis": null}
      }
    },
    {
      "data": {"values": [{"f": 6.611, "db": -100.72}]},
      "mark": {"type": "point", "filled": true, "opacity": 1, "color": "#ff0000", "strokeWidth": 0, "size": 2809, "angle": 202, "shape": "M0,-1L-0.9,1L0.9,1Z"},
      "encoding": {
        "x": {"field": "f", "type": "quantitative", "axis": null},
        "y": {"field": "db", "type": "quantitative", "axis": null}
      }
    },
    {
      "data": {"values": [{"f": 2.84, "db": 2.39, "f2": 10.9, "db2": 18}]},
      "mark": {"type": "rect", "fill": "#ffff00", "stroke": "#ff0000", "strokeWidth": 3},
      "encoding": {
        "x": {"field": "f", "type": "quantitative", "axis": null},
        "y": {"field": "db", "type": "quantitative", "axis": null},
        "x2": {"field": "f2"},
        "y2": {"field": "db2"}
      }
    },
    {
      "data": {"values": [{"f": 1.794, "db": -4.44, "f2": 5.348, "db2": -23.75}]},
      "mark": {"type": "rect", "fill": "#ffffff", "stroke": "#ff0000", "strokeWidth": 2.5},
      "encoding": {
        "x": {"field": "f", "type": "quantitative", "axis": null},
        "y": {"field": "db", "type": "quantitative", "axis": null},
        "x2": {"field": "f2"},
        "y2": {"field": "db2"}
      }
    },
    {
      "data": {"values": [
        {"f": 5.845, "db": 7.35, "t": "Potencia"},
        {"f": 7.875, "db": 7.35, "t": "de"},
        {"f": 8.746, "db": 7.35, "t": "ruido"},
        {"f": 10.183, "db": 7.35, "t": "y"}
      ]},
      "mark": {"type": "text", "font": "Liberation Serif", "fontStyle": "italic", "fontSize": 52, "align": "left", "baseline": "alphabetic", "color": "#000000"},
      "encoding": {
        "x": {"field": "f", "type": "quantitative", "axis": null},
        "y": {"field": "db", "type": "quantitative", "axis": null},
        "text": {"field": "t"}
      }
    },
    {
      "data": {"values": [{"f": 5.583, "db": 14.35, "t": "SFDR = 10·log"}]},
      "mark": {"type": "text", "font": "Liberation Serif", "fontSize": 53, "align": "right", "baseline": "alphabetic", "color": "#000000"},
      "encoding": {
        "x": {"field": "f", "type": "quantitative", "axis": null},
        "y": {"field": "db", "type": "quantitative", "axis": null},
        "text": {"field": "t"}
      }
    },
    {
      "data": {"values": [
        {"i": 0, "f": 5.612, "db": 15.2},
        {"i": 1, "f": 5.601, "db": 11.79},
        {"i": 2, "f": 5.603, "db": 9.23},
        {"i": 3, "f": 5.627, "db": 7.18},
        {"i": 4, "f": 5.679, "db": 5.64},
        {"i": 5, "f": 5.749, "db": 4.78}
      ]},
      "mark": {"type": "line", "color": "#000000", "strokeWidth": 2, "interpolate": "cardinal"},
      "encoding": {
        "x": {"field": "f", "type": "quantitative", "axis": null},
        "y": {"field": "db", "type": "quantitative", "axis": null},
        "order": {"field": "i", "type": "quantitative"}
      }
    },
    {
      "data": {"values": [
        {"f": 4.895, "db": -12.13, "t": "Señal senoidal de"},
        {"f": 4.338, "db": -20.16, "t": "amplitud V"},
        {"f": 4.913, "db": -20.16, "t": "/2"}
      ]},
      "mark": {"type": "text", "font": "Liberation Sans", "fontSize": 42, "align": "right", "baseline": "alphabetic", "color": "#0b2b9e"},
      "encoding": {
        "x": {"field": "f", "type": "quantitative", "axis": null},
        "y": {"field": "db", "type": "quantitative", "axis": null},
        "text": {"field": "t"}
      }
    },
    {
      "data": {"values": [{"f": 4.608, "db": -21.87, "t": "ref"}]},
      "mark": {"type": "text", "font": "Liberation Sans", "fontSize": 27, "align": "right", "baseline": "alphabetic", "color": "#0b2b9e"},
      "encoding": {
        "x": {"field": "f", "type": "quantitative", "axis": null},
        "y": {"field": "db", "type": "quantitative", "axis": null},
        "text": {"field": "t"}
      }
    },
    {
      "data": {"values": [
        {"f": 4.704, "db": -46.4, "t": "SFDR"},
        {"f": 7.936, "db": -46.4, "t": "Suelo de ruido"}
      ]},
      "mark": {"type": "text", "font": "Liberation Sans", "fontSize": 52, "align": "center", "baseline": "alphabetic", "color": "#0b2b9e"},
      "encoding": {
        "x": {"field": "f", "type": "quantitative", "axis": null},
        "y": {"field": "db", "type": "quantitative", "axis": null},
        "text": {"field": "t"}
      }
    }
  ],
  "resolve": {"axis": {"x": "independent", "y": "independent"}}
}
